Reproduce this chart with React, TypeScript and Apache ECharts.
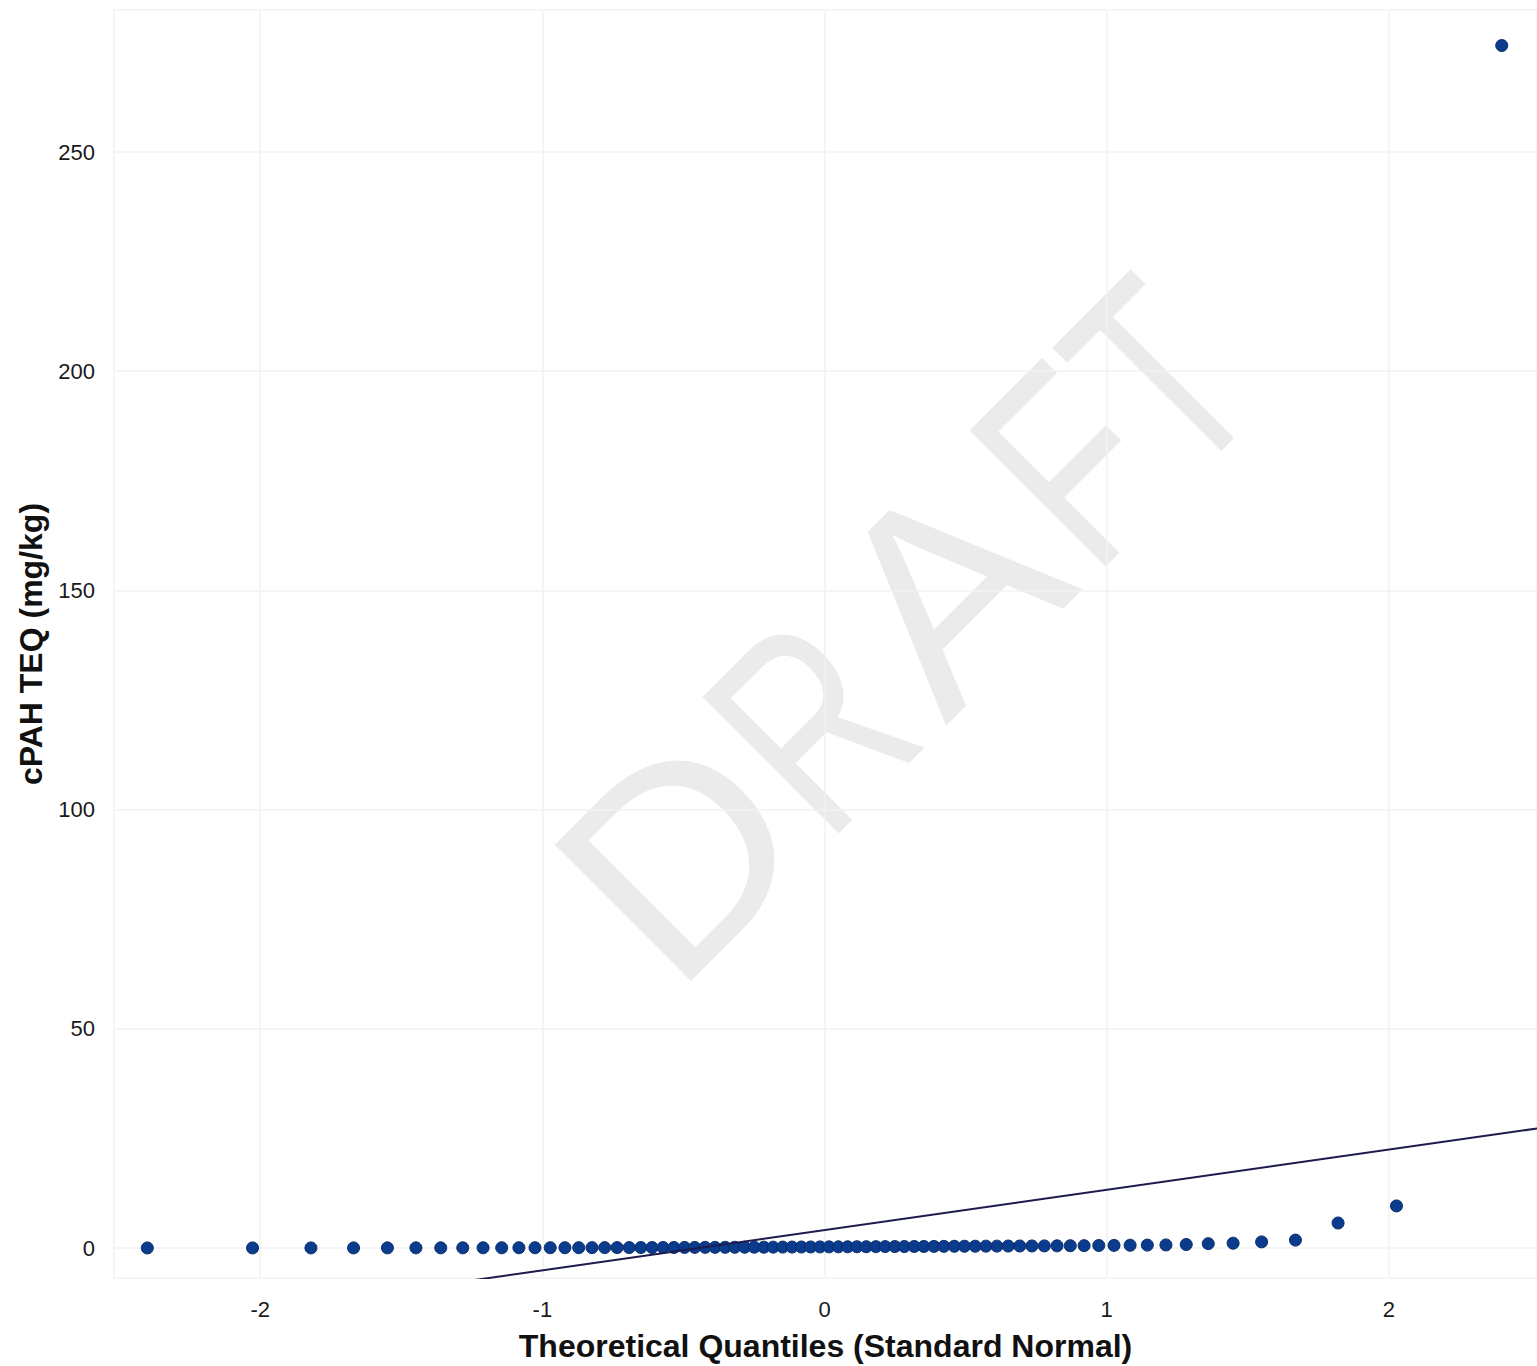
import { useEffect, useRef } from "react";
import * as echarts from "echarts";

// Normal-score (theoretical) quantiles for the 76 samples
const theoreticalQuantiles = [
  -2.4, -2.027, -1.82, -1.669, -1.549, -1.448, -1.36, -1.282, -1.21, -1.144,
  -1.083, -1.026, -0.972, -0.92, -0.871, -0.824, -0.779, -0.735, -0.692, -0.651,
  -0.611, -0.572, -0.534, -0.496, -0.46, -0.423, -0.388, -0.352, -0.318, -0.283,
  -0.249, -0.215, -0.182, -0.148, -0.115, -0.082, -0.049, -0.016, 0.016, 0.049,
  0.082, 0.115, 0.148, 0.182, 0.215, 0.249, 0.283, 0.318, 0.352, 0.388,
  0.423, 0.46, 0.496, 0.534, 0.572, 0.611, 0.651, 0.692, 0.735, 0.779,
  0.824, 0.871, 0.92, 0.972, 1.026, 1.083, 1.144, 1.21, 1.282, 1.36,
  1.448, 1.549, 1.669, 1.82, 2.027, 2.4,
];

// Sorted cPAH TEQ results (mg/kg)
const sampleQuantiles = [
  0.015, 0.021, 0.024, 0.03, 0.033, 0.038, 0.041, 0.047, 0.05, 0.056,
  0.061, 0.064, 0.07, 0.074, 0.079, 0.085, 0.09, 0.094, 0.1, 0.11,
  0.11, 0.12, 0.12, 0.13, 0.14, 0.15, 0.15, 0.16, 0.17, 0.18,
  0.19, 0.19, 0.2, 0.21, 0.22, 0.23, 0.24, 0.25, 0.26, 0.27,
  0.28, 0.29, 0.3, 0.31, 0.32, 0.33, 0.34, 0.35, 0.36, 0.37,
  0.38, 0.39, 0.4, 0.41, 0.42, 0.43, 0.45, 0.46, 0.47, 0.48,
  0.5, 0.52, 0.54, 0.57, 0.6, 0.63, 0.66, 0.7, 0.8, 1.0,
  1.1, 1.4, 1.8, 5.7, 9.6, 274.3,
];

// Reference line: intercept and slope
const qqLineIntercept = 4.08;
const qqLineSlope = 9.18;

const xTicks = [-2, -1, 0, 1, 2];
const yTicks = [0, 50, 100, 150, 200, 250];
const xRange = [-2.518, 2.525];
const yRange = [-6.84, 282.4];

const xTitle = "Theoretical Quantiles (Standard Normal)";
const yTitle = "cPAH TEQ (mg/kg)";
const watermarkText = "DRAFT";

const FONT = "'Liberation Sans', Arial, Helvetica, sans-serif";

// Per-letter placement of the watermark along its rotated baseline
const WATERMARK_LAYOUT = [
  { cx: 82, sx: 1.03 },
  { cx: 267.5, sx: 0.73 },
  { cx: 459, sx: 1.04 },
  { cx: 634.7, sx: 0.75 },
  { cx: 760.3, sx: 0.7 },
];

export default function App() {
  const ref = useRef<HTMLDivElement>(null);

  useEffect(() => {
    document.body.style.margin = "0";
    const chart = echarts.init(ref.current!, null, { renderer: "svg" });

    const points = theoreticalQuantiles.map((q, i) => [q, sampleQuantiles[i]]);
    const linePoints = xRange.map((x) => [x, qqLineIntercept + qqLineSlope * x]);

    const letters = watermarkText.split("").map((ch, i) => ({
      type: "text",
      x: WATERMARK_LAYOUT[i].cx,
      y: -97,
      scaleX: WATERMARK_LAYOUT[i].sx,
      style: {
        text: ch,
        fontSize: 280,
        fontFamily: FONT,
        fill: "#ebebeb",
        align: "center",
        verticalAlign: "middle",
      },
    }));

    const option: any = {
      animation: false,
      backgroundColor: "#ffffff",
      grid: {
        left: 114,
        right: 0,
        top: 10,
        bottom: 88,
        show: true,
        borderColor: "#f2f2f2",
        borderWidth: 1.5,
        containLabel: false,
        outerBoundsMode: "none",
      },
      graphic: [
        {
          type: "group",
          x: 689.8,
          y: 982,
          rotation: Math.PI / 4,
          silent: true,
          z: 0,
          children: letters,
        },
      ],
      xAxis: {
        type: "value",
        min: xRange[0],
        max: xRange[1],
        axisLine: { show: false },
        axisTick: { show: false, customValues: xTicks },
        axisLabel: {
          customValues: xTicks,
          fontSize: 22,
          color: "#1a1a1a",
          fontFamily: FONT,
          margin: 20,
        },
        splitLine: { show: true, lineStyle: { color: "#f2f2f2", width: 1.5 } },
        name: xTitle,
        nameLocation: "middle",
        nameGap: 52,
        nameTextStyle: {
          fontSize: 32,
          fontWeight: "bold",
          color: "#111111",
          fontFamily: FONT,
        },
      },
      yAxis: {
        type: "value",
        min: yRange[0],
        max: yRange[1],
        axisLine: { show: false },
        axisTick: { show: false, customValues: yTicks },
        axisLabel: {
          customValues: yTicks,
          fontSize: 22,
          color: "#1a1a1a",
          fontFamily: FONT,
          margin: 19,
        },
        splitLine: { show: true, lineStyle: { color: "#f2f2f2", width: 1.5 } },
        name: yTitle,
        nameLocation: "middle",
        nameGap: 67,
        nameRotate: 90,
        nameTextStyle: {
          fontSize: 32,
          fontWeight: "bold",
          color: "#111111",
          fontFamily: FONT,
        },
      },
      series: [
        {
          type: "scatter",
          data: points,
          symbol: "circle",
          symbolSize: 12,
          itemStyle: {
            color: "#0b3b8c",
            borderColor: "#082c6a",
            borderWidth: 1,
            opacity: 1,
          },
          z: 3,
        },
        {
          type: "line",
          data: linePoints,
          showSymbol: false,
          symbol: "none",
          clip: true,
          lineStyle: { color: "#1b1b4d", width: 2 },
          z: 4,
        },
      ],
    };

    chart.setOption(option);
    return () => chart.dispose();
  }, []);

  return <div ref={ref} style={{ width: 1537, height: 1366, background: "#ffffff" }} />;
}
